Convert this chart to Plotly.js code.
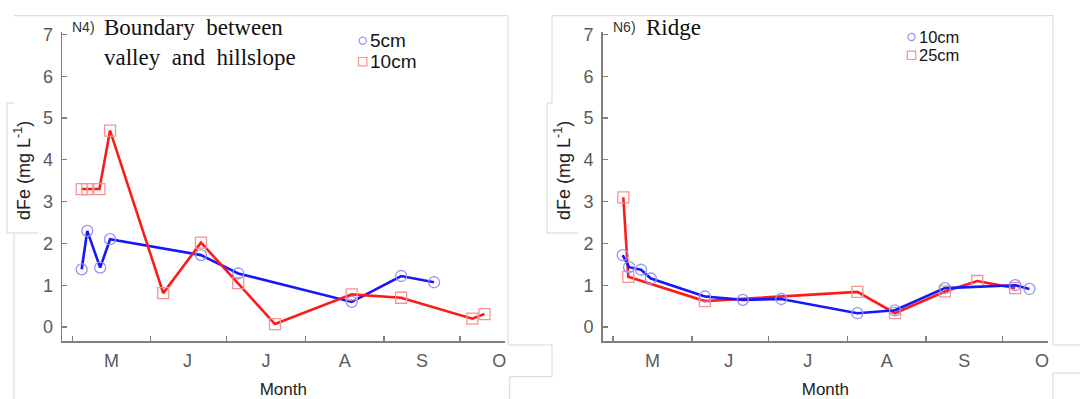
<!DOCTYPE html>
<html>
<head>
<meta charset="utf-8">
<script src="https://cdn.plot.ly/plotly-3.0.1.min.js"></script>
<style>html,body{margin:0;padding:0;background:#fff;}#chart{width:1080px;height:399px;}</style>
</head>
<body>
<div id="chart"></div>
<script>
// ---- data (x = days since 1 May) ----
const monthLabels = ["M", "J", "J", "A", "S", "O"];
const monthStarts = [0, 31, 61, 92, 123, 153];
const monthMids = [15.5, 45.5, 76.5, 107.5, 138, 168.5];
const yTicks = [0, 1, 2, 3, 4, 5, 6, 7];

const n4Names = ["5cm", "10cm"];
const n4_5cm_day = [3.7, 5.9, 11.0, 14.9, 50.8, 65.5, 110.3, 129.8, 142.8];
const n4_5cm_val = [1.38, 2.3, 1.42, 2.1, 1.72, 1.28, 0.6, 1.22, 1.07];
const n4_10cm_day = [3.7, 5.9, 10.7, 14.9, 35.9, 50.8, 65.5, 80.0, 110.3, 129.8, 157.9, 162.7];
const n4_10cm_val = [3.3, 3.3, 3.3, 4.7, 0.81, 2.02, 1.05, 0.07, 0.78, 0.7, 0.2, 0.31];

const n6Names = ["10cm", "25cm"];
const n6_10cm_day = [3.8, 6.3, 11.0, 14.9, 36.1, 51.0, 66.1, 96.0, 110.8, 130.4, 158.0, 163.6];
const n6_10cm_val = [1.72, 1.43, 1.37, 1.16, 0.73, 0.65, 0.67, 0.33, 0.4, 0.93, 1.0, 0.91];
const n6_25cm_day = [4.05, 6.0, 36.1, 96.0, 110.8, 130.4, 143.1, 158.0];
const n6_25cm_val = [3.1, 1.2, 0.62, 0.84, 0.33, 0.85, 1.1, 0.93];

const panelTags = ["N4)", "N6)"];
const panelTitles = ["Boundary\u00A0 between<br>valley\u00A0 and\u00A0 hillslope", "Ridge"];
const yTitle = "dFe (mg L<sup>-1</sup>)";
const xTitle = "Month";

// ---- styling ----
const W = 1080, H = 399;
const px = v => v / W, py = v => 1 - v / H;
const BLUE = "#1616ff", RED = "#ff1a1a";
const BLUE_M = "#9494f2", RED_M = "#f49494";
const AXC = "#808080", TICKC = "#5a5a5a";
const SANS = "Liberation Sans, Arial, sans-serif";
const SERIF = "Liberation Serif, Times New Roman, serif";

function tr(x, y, name, xa, ya, color, mcolor, symbol) {
  return {
    type: "scatter", mode: "lines+markers", x: x, y: y, name: name,
    xaxis: xa, yaxis: ya, showlegend: false,
    line: {color: color, width: 2.6},
    marker: {symbol: symbol, size: 11, color: mcolor, line: {color: mcolor, width: 1.3}}
  };
}

const data = [
  tr(n4_5cm_day, n4_5cm_val, n4Names[0], "x", "y", BLUE, BLUE_M, "circle-open"),
  tr(n4_10cm_day, n4_10cm_val, n4Names[1], "x", "y", RED, RED_M, "square-open"),
  tr(n6_25cm_day, n6_25cm_val, n6Names[1], "x2", "y2", RED, RED_M, "square-open"),
  tr(n6_10cm_day, n6_10cm_val, n6Names[0], "x2", "y2", BLUE, BLUE_M, "circle-open")
];

function xax(domain, range, anchor) {
  return {
    domain: domain, range: range, anchor: anchor,
    tickmode: "array", tickvals: monthMids, ticktext: monthLabels, ticks: "",
    showline: true, linecolor: AXC, linewidth: 1.5, showgrid: false, zeroline: false,
    tickfont: {family: SANS, size: 18, color: TICKC}, ticklabelstandoff: 3,
    minor: {tickmode: "array", tickvals: monthStarts, ticks: "inside", ticklen: 5, tickcolor: AXC, tickwidth: 1.2, showgrid: false},
    title: {text: xTitle, font: {family: SANS, size: 17, color: "#222"}, standoff: 16},
    fixedrange: true
  };
}
function yax(domain, anchor) {
  return {
    domain: domain, range: [-0.335, 7.05], anchor: anchor,
    tickmode: "array", tickvals: yTicks, ticks: "inside", ticklen: 5, tickcolor: AXC, tickwidth: 1.2,
    showline: true, linecolor: AXC, linewidth: 1.5, showgrid: false, zeroline: false,
    tickfont: {family: SANS, size: 18, color: TICKC}, ticklabelstandoff: 4,
    fixedrange: true
  };
}

const yDom = [py(341), py(32.3)];

const annotations = [];
const shapes = [];
// panel tags and titles
[[70, 102], [610.6, 644]].forEach((p, i) => {
  annotations.push({xref: "paper", yref: "paper", x: px(p[0]), y: py(27), xanchor: "left", yanchor: "middle",
    text: panelTags[i], showarrow: false, font: {family: SANS, size: 14, color: "#333"}});
  annotations.push({xref: "paper", yref: "paper", x: px(p[1]), y: py(i === 0 ? 42 : 27), xanchor: "left", yanchor: "middle",
    align: "left", text: panelTitles[i], showarrow: false, font: {family: SERIF, size: 23, color: "#111"}});
});
// y titles
[22, 562].forEach(x => {
  annotations.push({xref: "paper", yref: "paper", x: px(x), y: py(171), xanchor: "center", yanchor: "middle",
    textangle: -90, text: yTitle, showarrow: false, font: {family: SANS, size: 18, color: "#222"}});
});
// legends: a small swatch shape + the series name
function legItem(cx, cy, kind, col, name, size, tx) {
  const r = kind === "circle" ? 3.6 : 4.2;
  shapes.push({type: kind === "circle" ? "circle" : "rect", xref: "paper", yref: "paper",
    x0: px(cx - r), x1: px(cx + r), y0: py(cy - r), y1: py(cy + r), line: {color: col, width: 1.2}});
  annotations.push({xref: "paper", yref: "paper", x: px(tx), y: py(cy), xanchor: "left", yanchor: "middle",
    text: name, showarrow: false, font: {family: SANS, size: size, color: "#151515"}});
}
legItem(362.7, 40.7, "circle", BLUE_M, n4Names[0], 19, 368);
legItem(362.7, 61.7, "square", RED_M, n4Names[1], 19, 368);
legItem(911.5, 37, "circle", BLUE_M, n6Names[0], 16.5, 916.5);
legItem(911.5, 55.3, "square", RED_M, n6Names[1], 16.5, 916.5);

// faint frame lines of the composed figure
const frameLines = [
  [14, 15.7, 508, 15.7], [508, 15.7, 508, 345], [508, 345, 552, 345], [552, 345, 552, 376.7],
  [509.7, 376.7, 552, 376.7], [509.7, 376.7, 509.7, 399],
  [7, 103, 7, 233], [7, 233, 38, 233], [7, 103, 14, 103], [14, 233, 14, 399],
  [552, 15.7, 1053, 15.7], [552, 15.7, 552, 103], [547, 103, 547, 233], [547, 233, 578, 233], [547, 103, 552, 103],
  [1053, 15.7, 1053, 345], [1053, 345, 1080, 345], [1053, 373, 1053, 399], [1053, 373, 1080, 373]
];
frameLines.forEach(l => shapes.push({type: "line", xref: "paper", yref: "paper",
  x0: px(l[0]), y0: py(l[1]), x1: px(l[2]), y1: py(l[3]), line: {color: "#d6d6d6", width: 1}, layer: "below"}));

const layout = {
  width: W, height: H, margin: {l: 0, r: 0, t: 0, b: 0},
  paper_bgcolor: "#fff", plot_bgcolor: "rgba(0,0,0,0)",
  font: {family: SANS},
  showlegend: false,
  xaxis: xax([px(62), px(504.5)], [-4.07, 170.6], "y"),
  yaxis: yax(yDom, "x"),
  xaxis2: xax([px(602.7), px(1048)], [-4.05, 170.9], "y2"),
  yaxis2: yax(yDom, "x2"),
  annotations: annotations,
  shapes: shapes
};

Plotly.newPlot("chart", data, layout, {displayModeBar: false, staticPlot: true});
</script>
</body>
</html>
